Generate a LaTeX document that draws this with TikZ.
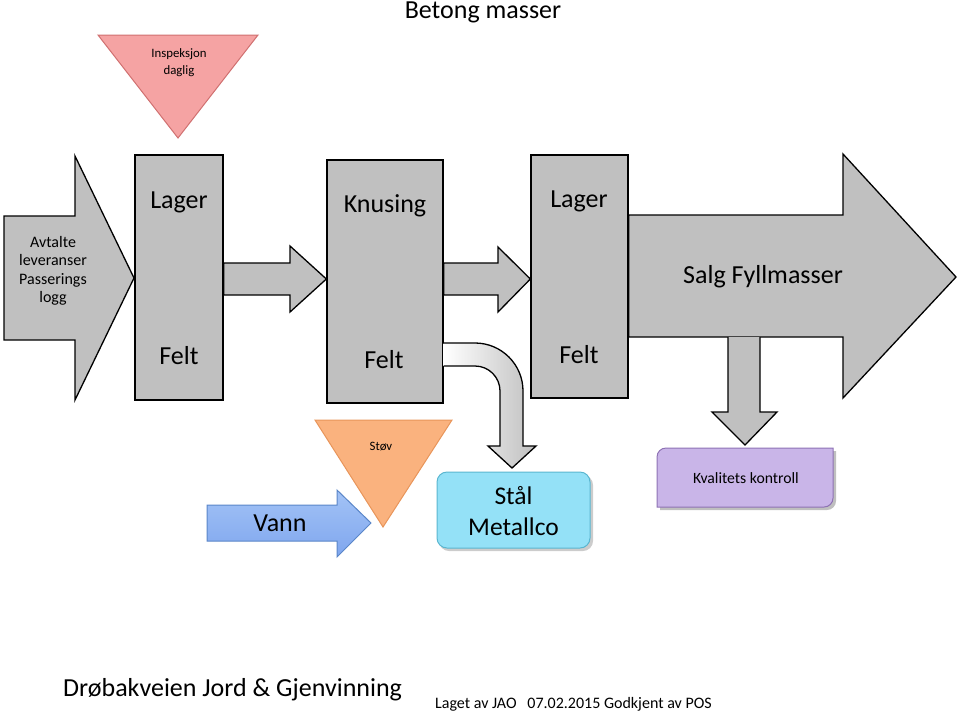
\documentclass[tikz,border=0pt]{standalone}
\usepackage{fontspec}
\setmainfont{Carlito}
\definecolor{boxgray}{HTML}{C0C0C0}
\definecolor{pinkfill}{HTML}{F5A3A3}
\definecolor{pinkline}{HTML}{D07070}
\definecolor{orangefill}{HTML}{FAB27E}
\definecolor{orangeline}{HTML}{E8955A}
\definecolor{bluefill}{HTML}{A3C3F6}
\definecolor{bluefilldark}{HTML}{7FA6EE}
\definecolor{blueline}{HTML}{5A86C8}
\definecolor{cyanfill}{HTML}{94E1F7}
\definecolor{cyanline}{HTML}{5AB6D0}
\definecolor{purplefill}{HTML}{C9B5E8}
\definecolor{purpleline}{HTML}{8E72B4}
\tikzset{
  grayshape/.style={fill=boxgray, draw=black, line width=1.3pt, line join=miter},
  graybox/.style={grayshape, rectangle, inner sep=0pt},
  bigtxt/.style={font=\fontsize{26}{31}\selectfont, inner sep=0pt},
  midtxt/.style={font=\fontsize{16}{18.5}\selectfont, align=center, inner sep=0pt},
  smalltxt/.style={font=\fontsize{12.8}{17}\selectfont, align=center, inner sep=0pt},
}
\begin{document}
\begin{tikzpicture}[x=1pt,y=-1pt]
\useasboundingbox (0,0) rectangle (960,713);

% title
\node[bigtxt] (title) at (483,12) {Betong masser};

% pink triangle
\draw[fill=pinkfill, draw=pinkline, line width=1pt] (98,35) -- (258,35) -- (178,138) -- cycle;
\node[smalltxt] (insp) at (179,63) {Inspeksjon\\daglig};

% left big arrow
\draw[grayshape] (4,216) -- (75,216) -- (75,156) -- (134,278) -- (75,400) -- (75,340) -- (4,340) -- cycle;
\node[midtxt] (avt) at (53,271) {Avtalte\\leveranser\\Passerings\\logg};

% boxes
\node[graybox, minimum width=88pt, minimum height=245pt] (box1) at (179,277.5) {};
\node[graybox, minimum width=116pt, minimum height=243pt] (box2) at (385,281.5) {};
\node[graybox, minimum width=97pt, minimum height=243pt] (box3) at (579.5,276.5) {};

\node[bigtxt] (l1) at (179,202) {Lager};
\node[bigtxt] (f1) at (179,356) {Felt};
\node[bigtxt] (k2) at (385,206) {Knusing};
\node[bigtxt] (f2) at (384,360) {Felt};
\node[bigtxt] (l3) at (579,201) {Lager};
\node[bigtxt] (f3) at (579,355) {Felt};

% arrow box1 -> box2
\draw[grayshape] (box1.east |- 0,263) -- (290,263) -- (290,246) -- (box2.west |- 0,279) -- (290,312) -- (290,295) -- (box1.east |- 0,295) -- cycle;
% arrow box2 -> box3
\draw[grayshape] (box2.east |- 0,263) -- (498,263) -- (498,247) -- (box3.west |- 0,279) -- (498,312) -- (498,295) -- (box2.east |- 0,295) -- cycle;

% big right arrow
\draw[grayshape] (box3.east |- 0,215) -- (843,215) -- (843,154) -- (956,277) -- (843,398) -- (843,337) -- (box3.east |- 0,337) -- cycle;
\node[bigtxt] (salg) at (763,277) {Salg Fyllmasser};

% down arrow to kvalitets kontroll
\draw[grayshape] (728,337) -- (728,412) -- (712,412) -- (745,445) -- (777,412) -- (760,412) -- (760,337);

% kvalitets kontroll box
\fill[black!25] (669,451) -- (836,451) -- (836,501) .. controls (836,506) and (832,510) .. (827,510) -- (660,510) -- (660,460) .. controls (660,455) and (664,451) .. (669,451) -- cycle;
\draw[fill=purplefill, draw=purpleline, line width=1pt] (666,448) -- (833,448) -- (833,498) .. controls (833,503) and (829,507) .. (824,507) -- (657,507) -- (657,457) .. controls (657,452) and (661,448) .. (666,448) -- cycle;
\node[font=\fontsize{15.7}{18}\selectfont, inner sep=0pt] (kval) at (746,478) {Kvalitets kontroll};

% bent arrow from Knusing to Staal
\draw[left color=white, right color=black!25, draw=black, line width=1.3pt, line join=miter]
  (box2.east |- 0,343) -- (475,343) .. controls (501.5,343) and (523,364.5) .. (523,391)
  -- (523,446) -- (536,446) -- (512,468) -- (488,446) -- (500,446) -- (500,391)
  .. controls (500,377.2) and (488.8,366) .. (475,366) -- (box2.east |- 0,366);

% Staal box
\fill[black!20, rounded corners=10pt] (439,475) rectangle (593,551);
\node[draw=cyanline, fill=cyanfill, line width=1pt, rounded corners=10pt, minimum width=153pt, minimum height=76pt, inner sep=0pt] (staal) at (513.5,510) {};
\node[bigtxt, align=center, font=\fontsize{25.5}{31}\selectfont] (staaltxt) at (513.5,511) {Stål\\Metallco};

% orange triangle
\draw[fill=orangefill, draw=orangeline, line width=1pt] (315,420) -- (452,420) -- (383,527) -- cycle;
\node[smalltxt] (stov) at (381,447) {Støv};

% Vann arrow
\draw[top color=bluefill, bottom color=bluefilldark, draw=blueline, line width=1pt]
  (207,505) -- (337,505) -- (337,490) -- (371,523) -- (337,557) -- (337,541) -- (207,541) -- cycle;
\node[bigtxt] (vann) at (280,523) {Vann};

% footer
\node[font=\fontsize{26}{30}\selectfont, anchor=west, inner sep=0pt] (firma) at (63,690) {Drøbakveien Jord \& Gjenvinning};
\node[font=\fontsize{16}{18}\selectfont, anchor=west, inner sep=0pt] (laget) at (435,704) {Laget av JAO\ \ \ 07.02.2015 Godkjent av POS};
\end{tikzpicture}
\end{document}
